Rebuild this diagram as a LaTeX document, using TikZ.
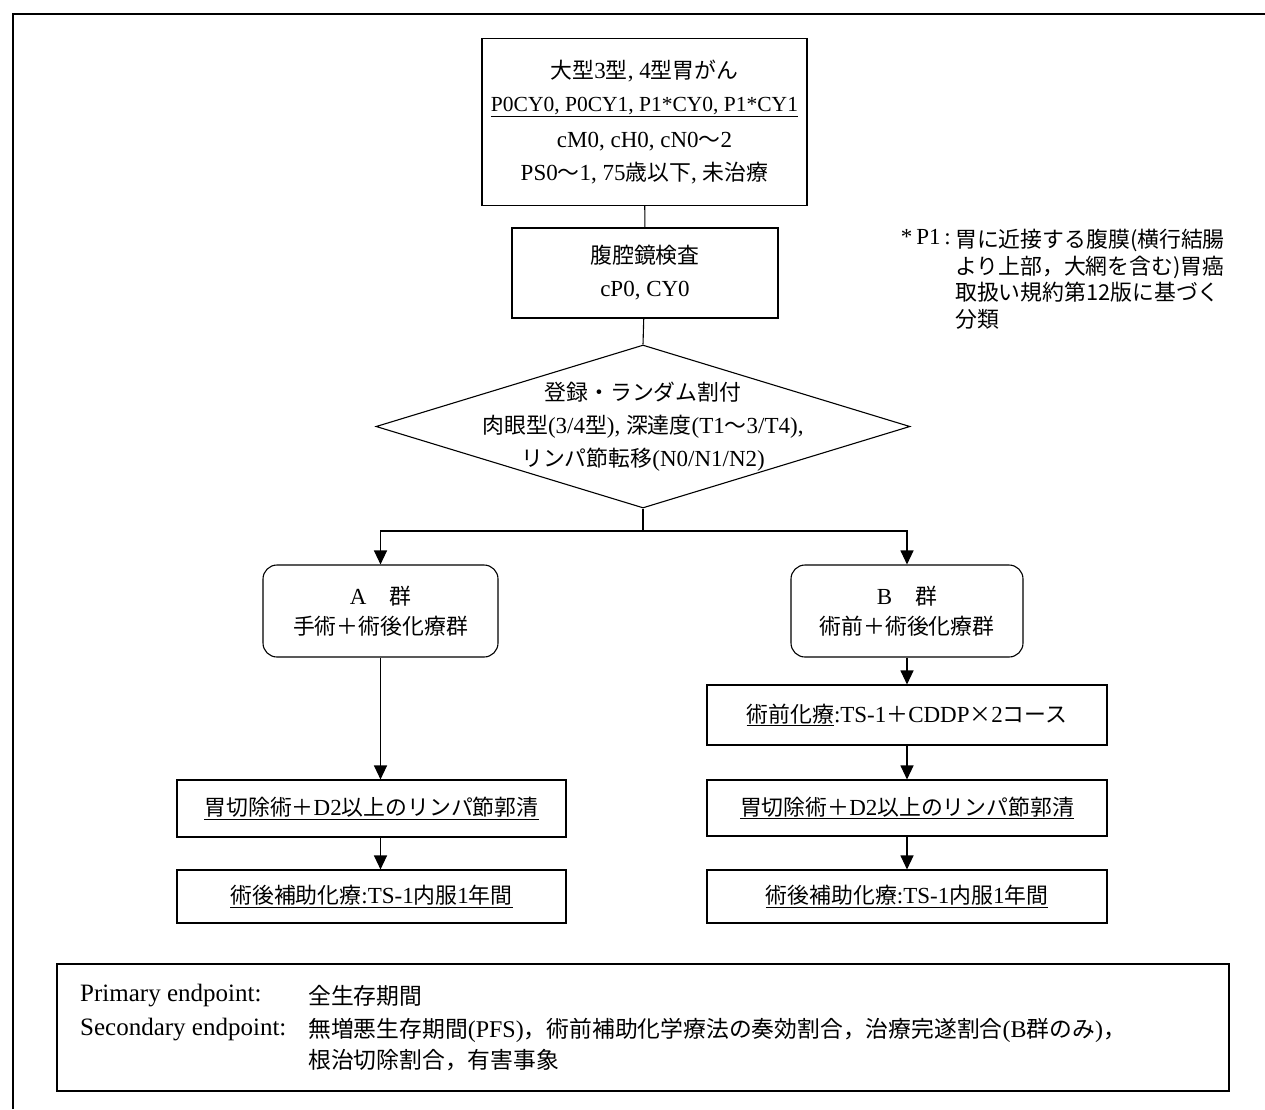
\documentclass[tikz,border=0pt]{standalone}
\usepackage{fontspec}
\setmainfont{Liberation Serif}
\newfontfamily\jp[Scale=0.95]{Noto Sans CJK JP}
\usetikzlibrary{shapes.geometric,arrows.meta}
\begin{document}
\begin{tikzpicture}[x=1pt,y=-1pt,
  ln/.style={line width=1.1pt},
  box/.style={draw, ln, align=center, inner sep=0pt, font=\fontsize{23}{33}\selectfont},
  rbox/.style={box, rounded corners=14pt},
  arr/.style={ln, -{Triangle[length=14pt,width=13pt]}},
  txt/.style={inner sep=0pt, align=left}]
\useasboundingbox (0,0) rectangle (1265,1109);
\draw[ln] (13,1109) -- (13,14) -- (1265,14);

\node[box, minimum width=325pt, minimum height=167pt] (top) at (644.5,122)
  {{\jp 大型}3{\jp 型}, 4{\jp 型胃がん}\\
   {\fontsize{21.5}{33}\selectfont\underline{P0CY0, P0CY1, P1*CY0, P1*CY1}}\\[3pt]
   cM0, cH0, cN0{\jp ～}2\\
   PS0{\jp ～}1, 75{\jp 歳以下}, {\jp 未治療}};

\node[box, minimum width=266pt, minimum height=90pt] (lap) at (645,273)
  {{\jp 腹腔鏡検査}\\cP0, CY0};

\node[draw, ln, diamond, minimum width=534pt, minimum height=163pt, inner sep=0pt] (rand) at (643,426.5) {};
\node[align=center, inner sep=0pt, font=\fontsize{23}{33}\selectfont] (randtxt) at (rand.center)
  {{\jp 登録・ランダム割付}\\
   {\jp 肉眼型}(3/4{\jp 型}), {\jp 深達度}(T1{\jp ～}3/T4),\\
   {\jp リンパ節転移}(N0/N1/N2)};
\coordinate (split) at (643,531);

\node[rbox, minimum width=235pt, minimum height=92pt, font=\fontsize{23}{30}\selectfont] (A) at (380.5,611)
  {A\quad{\jp 群}\\{\jp 手術＋術後化療群}};
\node[rbox, minimum width=232pt, minimum height=92pt, font=\fontsize{23}{30}\selectfont] (B) at (907,611)
  {B\quad{\jp 群}\\{\jp 術前＋術後化療群}};

\node[box, minimum width=400pt, minimum height=60pt] (Bpre) at (907,715)
  {\underline{\jp 術前化療}:TS-1{\jp ＋}CDDP{\jp ×}2{\jp コース}};
\node[box, minimum width=389pt, minimum height=57pt] (Asurg) at (371.5,808.5)
  {\underline{{\jp 胃切除術＋}D2{\jp 以上のリンパ節郭清}}};
\node[box, minimum width=400pt, minimum height=56pt] (Bsurg) at (907,808)
  {\underline{{\jp 胃切除術＋}D2{\jp 以上のリンパ節郭清}}};
\node[box, minimum width=389pt, minimum height=53pt] (Aadj) at (371.5,896.5)
  {\underline{{\jp 術後補助化療}:TS-1{\jp 内服}1{\jp 年間}}};
\node[box, minimum width=400pt, minimum height=53pt] (Badj) at (907,896.5)
  {\underline{{\jp 術後補助化療}:TS-1{\jp 内服}1{\jp 年間}}};

\draw[ln] (top) -- (lap);
\draw[ln] (lap) -- (rand.north);
\draw[ln] (rand.south) -- (split);
\draw[arr] (split) -| (A.north);
\draw[arr] (split) -| (B.north);
\draw[arr] (A.south) -- (A.south |- Asurg.north);
\draw[arr] (A.south |- Asurg.south) -- (A.south |- Aadj.north);
\draw[arr] (B.south) -- (Bpre.north);
\draw[arr] (Bpre) -- (Bsurg);
\draw[arr] (Bsurg) -- (Badj);

\node[txt, anchor=north east, font=\fontsize{23}{26.5}\selectfont] (fnlab) at (951,229) {*\,P1\,:};
\node[txt, anchor=north west, font=\fontsize{23}{26.5}\selectfont\jp] (fn) at (955,229)
  {胃に近接する腹膜(横行結腸\\より上部，大網を含む)胃癌\\取扱い規約第12版に基づく\\分類};

\node[draw, ln, minimum width=1172pt, minimum height=127pt, inner sep=0pt] (ep) at (643,1027.5) {};
\node[txt, anchor=west, font=\fontsize{25}{30}\selectfont] (ep1lab) at (80,996) {Primary endpoint:};
\node[txt, anchor=west, font=\fontsize{24}{30}\selectfont\jp] (ep1) at (308,996) {全生存期間};
\node[txt, anchor=west, font=\fontsize{25}{30}\selectfont] (ep2lab) at (80,1030) {Secondary endpoint:};
\node[txt, anchor=north west, font=\fontsize{24}{31}\selectfont] (ep2) at (308,1018)
  {{\jp 無増悪生存期間}(PFS){\jp ，術前補助化学療法の奏効割合，治療完遂割合}(B{\jp 群のみ}){\jp ，}\\
   {\jp 根治切除割合，有害事象}};
\end{tikzpicture}
\end{document}
